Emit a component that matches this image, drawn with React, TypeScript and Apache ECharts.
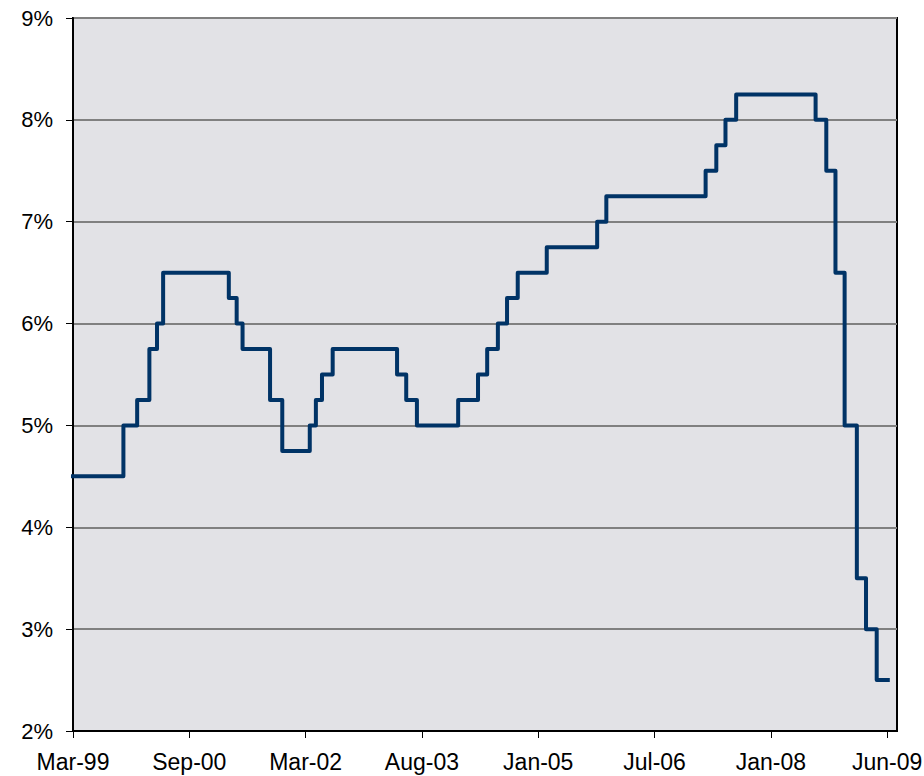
import React, { useEffect, useRef } from "react";
import * as echarts from "echarts";

// Official cash rate changes (date of change, rate in %)
const changeDates = [
  "1999-03-17", "1999-11-17", "2000-01-19", "2000-03-15", "2000-04-19", "2000-05-17",
  "2001-03-14", "2001-04-19", "2001-05-16", "2001-09-19", "2001-11-14",
  "2002-03-20", "2002-04-17", "2002-05-15", "2002-07-03",
  "2003-04-24", "2003-06-05", "2003-07-24",
  "2004-01-29", "2004-04-29", "2004-06-10", "2004-07-29", "2004-09-09", "2004-10-28",
  "2005-03-10", "2005-10-27", "2005-12-08",
  "2007-03-08", "2007-04-26", "2007-06-07", "2007-07-26",
  "2008-07-24", "2008-09-11", "2008-10-23", "2008-12-04",
  "2009-01-29", "2009-03-12", "2009-04-30", "2009-06-29",
];
const rateValues = [
  4.5, 5.0, 5.25, 5.75, 6.0, 6.5,
  6.25, 6.0, 5.75, 5.25, 4.75,
  5.0, 5.25, 5.5, 5.75,
  5.5, 5.25, 5.0,
  5.25, 5.5, 5.75, 6.0, 6.25, 6.5,
  6.75, 7.0, 7.25,
  7.5, 7.75, 8.0, 8.25,
  8.0, 7.5, 6.5, 5.0,
  3.5, 3.0, 2.5, 2.5,
];

const tickLabels = ["Mar-99", "Sep-00", "Mar-02", "Aug-03", "Jan-05", "Jul-06", "Jan-08", "Jun-09"];
const yTicks = [2, 3, 4, 5, 6, 7, 8, 9];

const axisOrigin = "1999-03-31";
const tickIntervalDays = 533;
const axisSpanDays = 3776;

function toDays(s: string): number {
  const [y, m, d] = s.split("-").map(Number);
  const [oy, om, od] = axisOrigin.split("-").map(Number);
  return Math.round((Date.UTC(y, m - 1, d) - Date.UTC(oy, om - 1, od)) / 86400000);
}

export default function App() {
  const ref = useRef<HTMLDivElement>(null);

  useEffect(() => {
    document.body.style.margin = "0";
    if (!ref.current) return;
    const chart = echarts.init(ref.current, undefined, { renderer: "svg" });
    const font = "'Liberation Sans', Arial, sans-serif";
    const tickValues = tickLabels.map((_, i) => i * tickIntervalDays);
    chart.setOption({
      animation: false,
      backgroundColor: "#ffffff",
      grid: {
        left: 73,
        right: 27,
        top: 18,
        bottom: 45,
        show: true,
        backgroundColor: "#e2e2e6",
        borderColor: "#000000",
        borderWidth: 2,
        containLabel: false,
        outerBoundsMode: "none",
      },
      xAxis: {
        type: "value",
        min: 0,
        max: axisSpanDays,
        interval: tickIntervalDays,
        axisLine: { show: true, lineStyle: { color: "#000000", width: 2 } },
        axisTick: {
          show: true,
          length: 7,
          customValues: tickValues,
          lineStyle: { color: "#000000", width: 1 },
        },
        axisLabel: {
          customValues: tickValues,
          margin: 19,
          fontSize: 23,
          color: "#000000",
          fontFamily: font,
          formatter: (v: number) => tickLabels[Math.round(v / tickIntervalDays)] ?? "",
        },
        splitLine: { show: false },
      },
      yAxis: {
        type: "value",
        min: yTicks[0],
        max: yTicks[yTicks.length - 1],
        interval: 1,
        axisLine: { show: true, lineStyle: { color: "#000000", width: 2 } },
        axisTick: { show: true, length: 7, lineStyle: { color: "#000000", width: 1 } },
        axisLabel: {
          margin: 20,
          fontSize: 22,
          color: "#000000",
          fontFamily: font,
          formatter: (v: number) => `${v}%`,
        },
        splitLine: { show: true, lineStyle: { color: "#808080", width: 2 } },
      },
      series: [
        {
          type: "line",
          step: "end",
          showSymbol: false,
          clip: true,
          lineStyle: { color: "#003366", width: 4, join: "round" },
          data: changeDates.map((d, i) => [toDays(d), rateValues[i]]),
        },
      ],
    });
    return () => chart.dispose();
  }, []);

  return (
    <div
      ref={ref}
      style={{ position: "absolute", left: 0, top: 0, width: 924, height: 776 }}
    />
  );
}
